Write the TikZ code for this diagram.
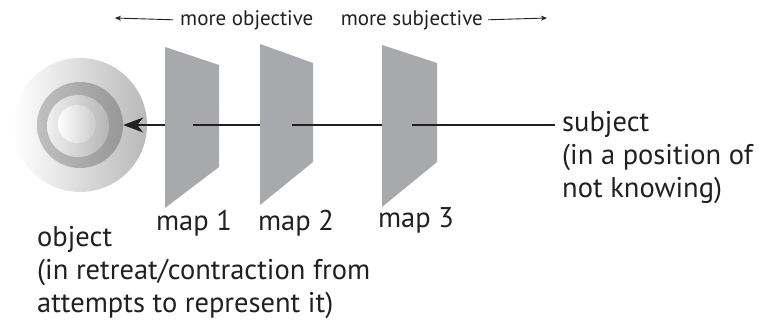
\documentclass[tikz,border=0pt]{standalone}
\usepackage{fontspec}
\setmainfont{PT Sans}
\usetikzlibrary{arrows.meta}
\definecolor{mapgray}{RGB}{167,169,172}
\definecolor{ink}{RGB}{35,31,32}

\begin{document}
\begin{tikzpicture}[x=1pt,y=-1pt,
    sphere/.style={circle, inner sep=0pt, draw=none},
    lbl/.style={font=\fontsize{28.5}{33}\selectfont, text=ink, inner sep=0pt, align=left},
    toplbl/.style={font=\fontsize{21}{24}\selectfont, text=ink, inner sep=0pt},
    axis/.style={draw=ink, line width=1.5pt},
    dir/.style={draw=ink, line width=0.9pt, -{Stealth[length=6pt,width=5pt]}}]
    \useasboundingbox (0,0) rectangle (759,324);
    % Object
    \node[sphere, minimum size=134pt, left color=white, right color=gray!55] (outer) at (80,125) {};
    \node[sphere, minimum size=86pt, left color=gray!50, right color=gray!82] (ring) at (80,125) {};
    \node[sphere, minimum size=62pt, left color=gray!12, right color=gray!58] (shell) at (78,126) {};
    \node[sphere, minimum size=38pt, left color=white, right color=gray!40] (core) at (77,124) {};
    % Maps
    \foreach \n/\xl/\xr/\ytl/\ytr/\ybr/\ybl/\xm in
        {1/165/219/47/65/167/208/193, 2/260/313/44/63/162/205/292, 3/382/437/45/63/162/207/412} {
        \fill[mapgray] (\xl,\ytl) -- (\xr,\ytr) -- (\xr,\ybr) -- (\xl,\ybl) -- cycle;
        \coordinate (m\n l) at (\xl,125);
        \coordinate (m\n m) at (\xm,125);
    }
    \coordinate (subjend) at (555,125);
    % Line of sight
    \draw[axis, -{Stealth[length=20pt,width=15pt,inset=6pt]}] (m1l) -- (ring.east);
    \draw[axis] (m1m) -- (m2l);
    \draw[axis] (m2m) -- (m3l);
    \draw[axis] (m3m) -- (subjend);
    % Labels
    \node[lbl, anchor=base] (map1) at (194,230) {map 1};
    \node[lbl, anchor=base] (map2) at (296,230) {map 2};
    \node[lbl, anchor=base] (map3) at (416,227) {map 3};
    \node[lbl, anchor=north west] (subj) at (562,111) {subject\\(in a position of\\not knowing)};
    \node[lbl, anchor=north west] (objtxt) at (37,226) {object\\(in retreat/contraction from\\attempts to represent it)};
    % Direction
    \node[toplbl, anchor=base west] (moreobj) at (180,25) {more objective};
    \node[toplbl, anchor=base east] (moresubj) at (483,25) {more subjective};
    \coordinate (objtip) at (115,18);
    \coordinate (subjtip) at (547,18);
    \draw[dir] ([xshift=-7pt]moreobj.west) -- (objtip);
    \draw[dir] ([xshift=5pt]moresubj.east) -- (subjtip);
\end{tikzpicture}
\end{document}
